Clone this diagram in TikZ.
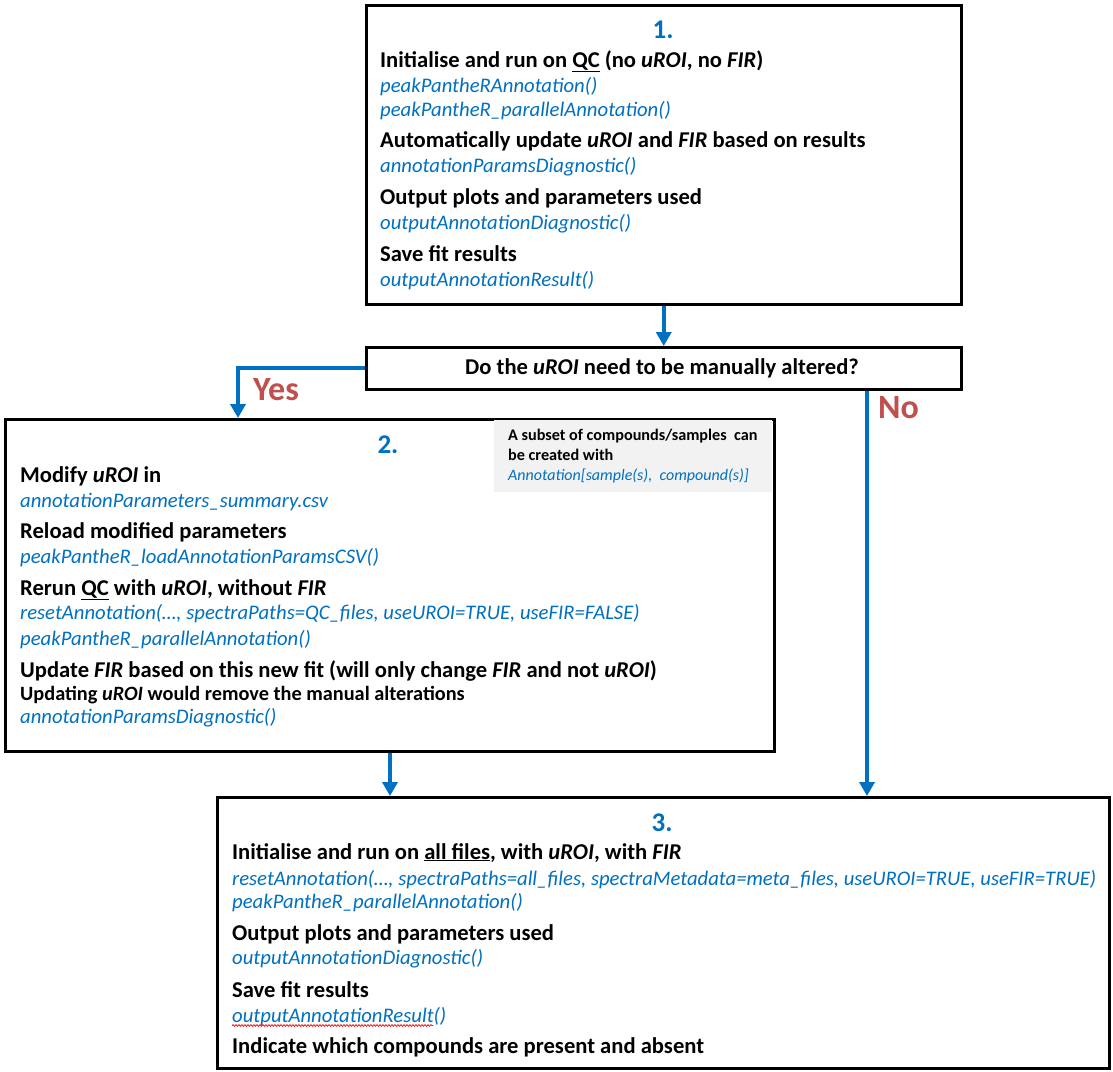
\documentclass[tikz,border=0pt]{standalone}
\usepackage{fontspec}
\setmainfont{Carlito}
\usetikzlibrary{arrows.meta,decorations.pathmorphing}
\definecolor{fblue}{HTML}{0070C0}
\definecolor{fred}{HTML}{C0504D}
\definecolor{notegray}{HTML}{F2F2F2}
\begin{document}
\begin{tikzpicture}[x=1pt,y=-1pt,
  box/.style={draw=black,line width=2.5pt,anchor=north west,inner sep=0,fill=white},
  hd/.style={anchor=base west,inner sep=0,font=\fontsize{22.6}{26}\selectfont\bfseries},
  hdsmall/.style={anchor=base west,inner sep=0,font=\fontsize{20.3}{23}\selectfont\bfseries},
  fn/.style={anchor=base west,inner sep=0,text=fblue,font=\fontsize{20.7}{24}\selectfont\itshape},
  notehd/.style={anchor=base west,inner sep=0,font=\fontsize{16.2}{19}\selectfont\bfseries},
  notefn/.style={anchor=base west,inner sep=0,text=fblue,font=\fontsize{16}{19}\selectfont\itshape},
  num/.style={anchor=base,inner sep=0,text=fblue,font=\fontsize{27}{30}\selectfont\bfseries},
  lbl/.style={anchor=base west,inner sep=0,text=fred,font=\fontsize{34}{38}\selectfont\bfseries},
  arr/.style={draw=fblue,line width=4pt,-{Triangle[length=14pt,width=15pt]}},
  ]
\useasboundingbox (0,0) rectangle (1113,1071);

% boxes
\node[box,minimum width=595pt,minimum height=299pt] (b1) at (365,4) {};
\node[box,minimum width=595pt,minimum height=42pt] (dec) at (365,346) {};
\node[box,minimum width=769pt,minimum height=332pt] (b2) at (4,418) {};
\node[box,minimum width=892pt,minimum height=271pt] (b3) at (216,796) {};
\fill[notegray] (494,419.5) rectangle (771.6,492);

% box 1
\node[num] (n1) at (663,38) {1.};
\node[hd] (t1a) at (380,67) {Initialise and run on \underline{QC} (no \textit{uROI}, no \textit{FIR})};
\node[fn] (t1b) at (380,92) {peakPantheRAnnotation()};
\node[fn] (t1c) at (380,116) {peakPantheR\_parallelAnnotation()};
\node[hd] (t1d) at (380,147) {Automatically update \textit{uROI} and \textit{FIR} based on results};
\node[fn] (t1e) at (380,172) {annotationParamsDiagnostic()};
\node[hd] (t1f) at (380,204) {Output plots and parameters used};
\node[fn] (t1g) at (380,229) {outputAnnotationDiagnostic()};
\node[hd] (t1h) at (380,261) {Save fit results};
\node[fn] (t1i) at (380,286) {outputAnnotationResult()};

% decision
\node[anchor=base,inner sep=0,font=\fontsize{22.6}{26}\selectfont\bfseries] (dtext) at (662,374) {Do the \textit{uROI} need to be manually altered?};

% box 2
\node[num] (n2) at (388,453) {2.};
\node[hd] (t2a) at (20,482) {Modify \textit{uROI} in};
\node[fn] (t2b) at (20,507) {annotationParameters\_summary.csv};
\node[hd] (t2c) at (20,538) {Reload modified parameters};
\node[fn] (t2d) at (20,563) {peakPantheR\_loadAnnotationParamsCSV()};
\node[hd] (t2e) at (20,595) {Rerun \underline{QC} with \textit{uROI}, without \textit{FIR}};
\node[fn] (t2f) at (20,619) {resetAnnotation(…, spectraPaths=QC\_files, useUROI=TRUE, useFIR=FALSE)};
\node[fn] (t2g) at (20,645) {peakPantheR\_parallelAnnotation()};
\node[hd] (t2h) at (20,677) {Update \textit{FIR} based on this new fit (will only change \textit{FIR} and not \textit{uROI})};
\node[hdsmall] (t2i) at (20,700) {Updating \textit{uROI} would remove the manual alterations};
\node[fn] (t2j) at (20,723) {annotationParamsDiagnostic()};

% note
\node[notehd] (na) at (508,440) {A subset of compounds/samples\ \ can};
\node[notehd] (nb) at (508,460) {be created with};
\node[notefn] (nc) at (508,480) {Annotation[sample(s),\ \ compound(s)]};

% box 3
\node[num] (n3) at (662,831) {3.};
\node[hd] (t3a) at (232,859) {Initialise and run on \underline{all files}, with \textit{uROI}, with \textit{FIR}};
\node[fn] (t3b) at (232,885) {resetAnnotation(…, spectraPaths=all\_files, spectraMetadata=meta\_files, useUROI=TRUE, useFIR=TRUE)};
\node[fn] (t3c) at (232,908) {peakPantheR\_parallelAnnotation()};
\node[hd] (t3d) at (232,940) {Output plots and parameters used};
\node[fn] (t3e) at (232,964) {outputAnnotationDiagnostic()};
\node[hd] (t3f) at (232,997) {Save fit results};
\node[fn] (t3g) at (232,1022) {outputAnnotationResult()};
\node[hd] (t3h) at (232,1053) {Indicate which compounds are present and absent};
\draw[red,line width=0.7pt,decorate,decoration={snake,amplitude=0.9pt,segment length=3pt}] (t3g.base west) ++(0,3.5) -- ++(201,0);

% labels
\node[lbl] (yes) at (253,400) {Yes};
\node[lbl] (no) at (878,418) {No};

% connectors
\coordinate (yesx) at (238,0);
\coordinate (nox) at (867,0);
\coordinate (twox) at (390,0);
\draw[arr] (b1.south) -- (dec.north);
\draw[arr] (dec.west) -| (b2.north -| yesx);
\draw[arr] (dec.south -| nox) -- (b3.north -| nox);
\draw[arr] (b2.south -| twox) -- (b3.north -| twox);
\end{tikzpicture}
\end{document}
